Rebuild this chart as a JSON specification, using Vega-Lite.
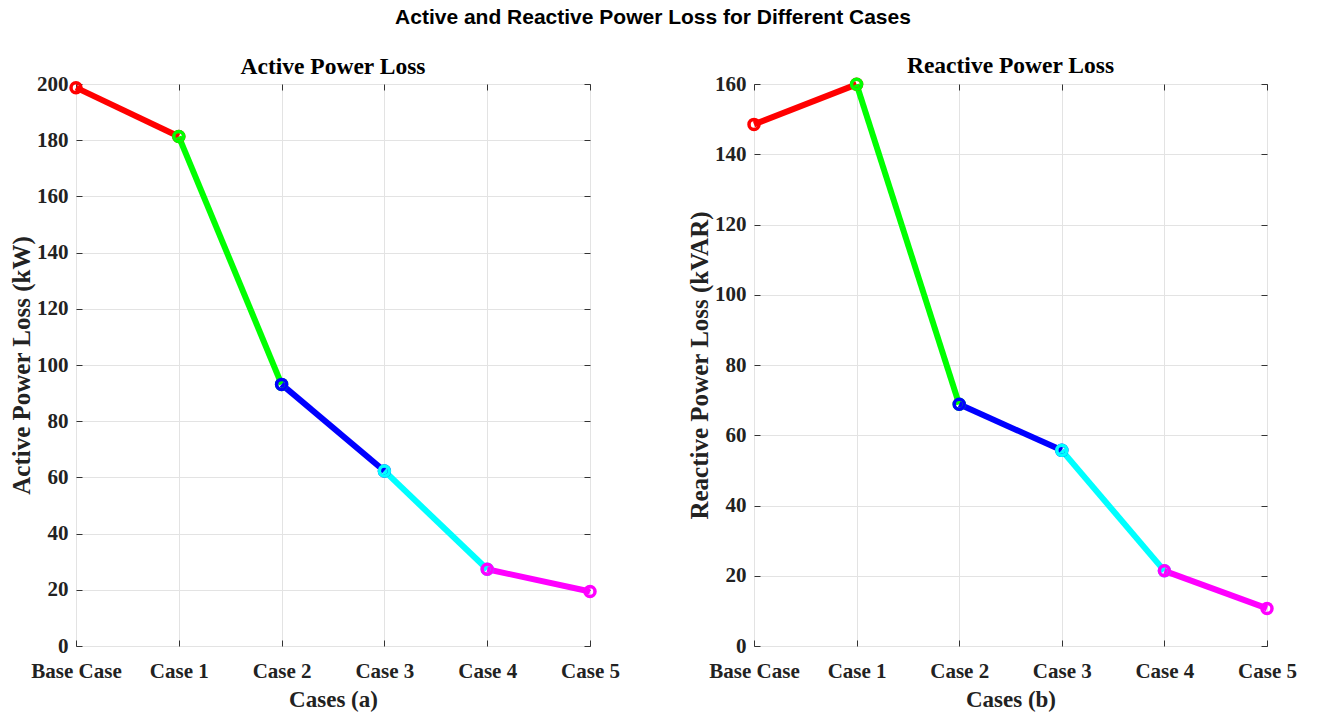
{
  "$schema": "https://vega.github.io/schema/vega-lite/v6.json",
  "background": "white",
  "padding": {"left": 9, "top": 7, "right": 0, "bottom": 0},
  "title": {"text": "Active and Reactive Power Loss for Different Cases", "font": "Liberation Sans", "fontSize": 21, "fontWeight": "bold", "color": "#000000", "anchor": "middle", "offset": 25},
  "spacing": 67,
  "config": {
    "view": {"stroke": "#333333", "strokeWidth": 1},
    "axis": {
      "labelFont": "Liberation Serif", "labelFontSize": 21, "labelFontWeight": "bold", "labelColor": "#222222",
      "titleFont": "Liberation Serif", "titleFontSize": 23, "titleFontWeight": "bold", "titleColor": "#222222",
      "gridColor": "#e3e3e3", "gridWidth": 1, "gridOpacity": 1,
      "domain": false, "tickColor": "#333333", "tickSize": -6, "tickWidth": 1, "labelPadding": 14
    },
    "axisX": {"labelPadding": 20},
    "axisY": {"titleFontSize": 25},
    "title": {"font": "Liberation Serif", "fontSize": 23.5, "fontWeight": "bold", "color": "#000000", "offset": -5}
  },
  "hconcat": [
    {
      "width": 514, "height": 562,
      "title": {"text": "Active Power Loss"},
      "data": {"values": [
        {"seg": 1, "case": "Base Case", "v": 198.7},
        {"seg": 1, "case": "Case 1", "v": 181.3},
        {"seg": 2, "case": "Case 1", "v": 181.3},
        {"seg": 2, "case": "Case 2", "v": 93.1},
        {"seg": 3, "case": "Case 2", "v": 93.1},
        {"seg": 3, "case": "Case 3", "v": 62.3},
        {"seg": 4, "case": "Case 3", "v": 62.3},
        {"seg": 4, "case": "Case 4", "v": 27.3},
        {"seg": 5, "case": "Case 4", "v": 27.3},
        {"seg": 5, "case": "Case 5", "v": 19.4}
      ]},
      "layer": [
        {
          "mark": {"type": "line", "strokeWidth": 6, "strokeJoin": "round"},
          "encoding": {
            "x": {"field": "case", "type": "ordinal", "sort": ["Base Case", "Case 1", "Case 2", "Case 3", "Case 4", "Case 5"], "scale": {"type": "point", "padding": 0}, "axis": {"labelAngle": 0, "title": "Cases (a)", "grid": true, "titlePadding": 7}},
            "y": {"field": "v", "type": "quantitative", "scale": {"domain": [0, 200], "nice": false}, "axis": {"values": [0, 20, 40, 60, 80, 100, 120, 140, 160, 180, 200], "title": "Active Power Loss (kW)", "grid": true, "titlePadding": 2}},
            "color": {"field": "seg", "type": "nominal", "scale": {"domain": [1, 2, 3, 4, 5], "range": ["#ff0000", "#00ff00", "#0000ff", "#00ffff", "#ff00ff"]}, "legend": null},
            "detail": {"field": "seg"}
          }
        },
        {
          "mark": {"type": "point", "filled": false, "size": 100, "strokeWidth": 3.5, "opacity": 1},
          "encoding": {
            "x": {"field": "case", "type": "ordinal", "sort": ["Base Case", "Case 1", "Case 2", "Case 3", "Case 4", "Case 5"], "scale": {"type": "point", "padding": 0}, "axis": {"orient": "top", "labels": false, "title": null, "grid": false}},
            "y": {"field": "v", "type": "quantitative", "scale": {"domain": [0, 200], "nice": false}, "axis": {"orient": "right", "labels": false, "title": null, "grid": false, "values": [0, 20, 40, 60, 80, 100, 120, 140, 160, 180, 200]}},
            "color": {"field": "seg", "type": "nominal", "scale": {"domain": [1, 2, 3, 4, 5], "range": ["#ff0000", "#00ff00", "#0000ff", "#00ffff", "#ff00ff"]}, "legend": null}
          }
        }
      ],
      "resolve": {"axis": {"x": "independent", "y": "independent"}}
    },
    {
      "width": 513, "height": 562,
      "title": {"text": "Reactive Power Loss"},
      "data": {"values": [
        {"seg": 1, "case": "Base Case", "v": 148.5},
        {"seg": 1, "case": "Case 1", "v": 159.9},
        {"seg": 2, "case": "Case 1", "v": 159.9},
        {"seg": 2, "case": "Case 2", "v": 68.8},
        {"seg": 3, "case": "Case 2", "v": 68.8},
        {"seg": 3, "case": "Case 3", "v": 55.7},
        {"seg": 4, "case": "Case 3", "v": 55.7},
        {"seg": 4, "case": "Case 4", "v": 21.4},
        {"seg": 5, "case": "Case 4", "v": 21.4},
        {"seg": 5, "case": "Case 5", "v": 10.7}
      ]},
      "layer": [
        {
          "mark": {"type": "line", "strokeWidth": 6, "strokeJoin": "round"},
          "encoding": {
            "x": {"field": "case", "type": "ordinal", "sort": ["Base Case", "Case 1", "Case 2", "Case 3", "Case 4", "Case 5"], "scale": {"type": "point", "padding": 0}, "axis": {"labelAngle": 0, "title": "Cases (b)", "grid": true, "titlePadding": 7}},
            "y": {"field": "v", "type": "quantitative", "scale": {"domain": [0, 160], "nice": false}, "axis": {"values": [0, 20, 40, 60, 80, 100, 120, 140, 160], "title": "Reactive Power Loss (kVAR)", "grid": true, "titlePadding": 2}},
            "color": {"field": "seg", "type": "nominal", "scale": {"domain": [1, 2, 3, 4, 5], "range": ["#ff0000", "#00ff00", "#0000ff", "#00ffff", "#ff00ff"]}, "legend": null},
            "detail": {"field": "seg"}
          }
        },
        {
          "mark": {"type": "point", "filled": false, "size": 100, "strokeWidth": 3.5, "opacity": 1},
          "encoding": {
            "x": {"field": "case", "type": "ordinal", "sort": ["Base Case", "Case 1", "Case 2", "Case 3", "Case 4", "Case 5"], "scale": {"type": "point", "padding": 0}, "axis": {"orient": "top", "labels": false, "title": null, "grid": false}},
            "y": {"field": "v", "type": "quantitative", "scale": {"domain": [0, 160], "nice": false}, "axis": {"orient": "right", "labels": false, "title": null, "grid": false, "values": [0, 20, 40, 60, 80, 100, 120, 140, 160]}},
            "color": {"field": "seg", "type": "nominal", "scale": {"domain": [1, 2, 3, 4, 5], "range": ["#ff0000", "#00ff00", "#0000ff", "#00ffff", "#ff00ff"]}, "legend": null}
          }
        }
      ],
      "resolve": {"axis": {"x": "independent", "y": "independent"}}
    }
  ]
}
